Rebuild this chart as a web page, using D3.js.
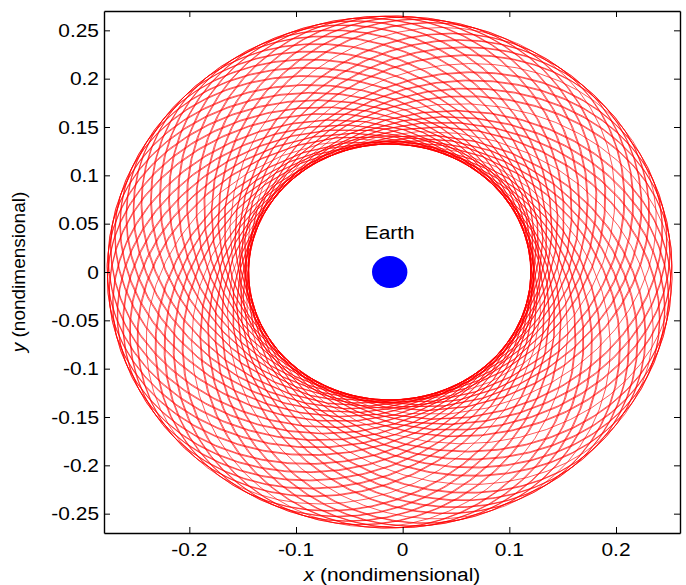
<!DOCTYPE html>
<html>
<head>
<meta charset="utf-8">
<script src="https://cdn.jsdelivr.net/npm/d3@7"></script>
<style>
  body { margin: 0; background: #fff; }
  text { font-family: "Liberation Sans", Arial, sans-serif; fill: #000; }
</style>
</head>
<body>
<div id="orbitPlot"></div>
<script>
// axis settings
let xDomain = [-0.28, 0.26]
let yDomain = [-0.27, 0.27]
let xTicks = [-0.2, -0.1, 0, 0.1, 0.2]
let yTicks = [-0.25, -0.2, -0.15, -0.1, -0.05, 0, 0.05, 0.1, 0.15, 0.2, 0.25]

// Earth in the Earth-Moon rotating frame
let mu = 0.01215
let earthPos = [-mu, 0]
let earthRadius = 0.0166
let earthLabel = "Earth"

// orbit: perigee / apogee radii seen in the plot, number of revolutions
let orbitRadii = [0.133, 0.265]
let orbitRevs = [105]
let samplesPerRev = [40]
let apseStart = [0.6]

function renderOrbitPlot() {
    let width = 686
    let height = 585
    let margin = { left: 104, top: 11, right: 6, bottom: 52 }
    let textStretch = 1.1

    let svg = d3.select('#orbitPlot')
        .append('svg')
        .attr('width', width)
        .attr('height', height)

    var x = d3.scaleLinear()
        .domain(xDomain)
        .range([margin.left, width - margin.right])
    var y = d3.scaleLinear()
        .domain(yDomain)
        .range([height - margin.bottom, margin.top])

    svg.append('defs')
        .append('clipPath')
        .attr('id', 'clip')
        .append('rect')
        .attr('x', x(xDomain[0]))
        .attr('y', y(yDomain[1]))
        .attr('width', x(xDomain[1]) - x(xDomain[0]))
        .attr('height', y(yDomain[0]) - y(yDomain[1]))

    // propagate the precessing ellipse (rotating frame)
    let rp = orbitRadii[0], ra = orbitRadii[1]
    let a = (rp + ra) / 2
    let e = (ra - rp) / (ra + rp)
    let n = Math.sqrt((1 - mu) / Math.pow(a, 3))
    let orbit = []
    let total = orbitRevs[0] * samplesPerRev[0]
    for (let k = 0; k <= total; k++) {
        let M = 2 * Math.PI * k / samplesPerRev[0]
        let t = M / n
        let E = M
        for (let it = 0; it < 10; it++) {
            E = E - (E - e * Math.sin(E) - M) / (1 - e * Math.cos(E))
        }
        let nu = 2 * Math.atan2(Math.sqrt(1 + e) * Math.sin(E / 2), Math.sqrt(1 - e) * Math.cos(E / 2))
        let r = a * (1 - e * Math.cos(E))
        let th = nu + apseStart[0] - t
        orbit.push([earthPos[0] + r * Math.cos(th), earthPos[1] + r * Math.sin(th)])
    }

    let line = d3.line()
        .x(d => x(d[0]))
        .y(d => y(d[1]))

    svg.append('g')
        .attr('clip-path', 'url(#clip)')
        .append('path')
        .datum(orbit)
        .attr('d', line)
        .attr('fill', 'none')
        .attr('stroke', '#ff0000')
        .attr('stroke-width', 0.65)

    // Earth
    svg.append('ellipse')
        .attr('cx', x(earthPos[0]))
        .attr('cy', y(earthPos[1]))
        .attr('rx', x(earthRadius) - x(0))
        .attr('ry', y(0) - y(earthRadius))
        .attr('fill', '#0000ff')

    svg.append('text')
        .attr('transform', 'translate(' + x(earthPos[0]) + ',' + (y(earthPos[1]) - 33) + ') scale(' + textStretch + ',1)')
        .attr('text-anchor', 'middle')
        .style('font-size', '19px')
        .text(earthLabel)

    // axes, MATLAB style box with inward ticks
    let fmt = d => String(d)
    let xAxisB = d3.axisBottom(x).tickValues(xTicks).tickSizeInner(-6).tickSizeOuter(0).tickFormat('')
    let xAxisT = d3.axisTop(x).tickValues(xTicks).tickSizeInner(-6).tickSizeOuter(0).tickFormat('')
    let yAxisL = d3.axisLeft(y).tickValues(yTicks).tickSizeInner(-6).tickSizeOuter(0).tickFormat('')
    let yAxisR = d3.axisRight(y).tickValues(yTicks).tickSizeInner(-6).tickSizeOuter(0).tickFormat('')

    let axes = [
        svg.append('g').attr('transform', 'translate(0,' + y(yDomain[0]) + ')').call(xAxisB),
        svg.append('g').attr('transform', 'translate(0,' + y(yDomain[1]) + ')').call(xAxisT),
        svg.append('g').attr('transform', 'translate(' + x(xDomain[0]) + ',0)').call(yAxisL),
        svg.append('g').attr('transform', 'translate(' + x(xDomain[1]) + ',0)').call(yAxisR)
    ]
    axes.forEach(g => {
        g.selectAll('path').attr('stroke', '#000').attr('stroke-width', 1.4)
        g.selectAll('line').attr('stroke', '#000').attr('stroke-width', 1)
    })

    // tick labels
    svg.append('g').selectAll('text')
        .data(xTicks)
        .enter()
        .append('text')
        .attr('transform', d => 'translate(' + x(d) + ',' + (y(yDomain[0]) + 23) + ') scale(' + textStretch + ',1)')
        .attr('text-anchor', 'middle')
        .style('font-size', '19px')
        .text(fmt)

    svg.append('g').selectAll('text')
        .data(yTicks)
        .enter()
        .append('text')
        .attr('transform', d => 'translate(' + (x(xDomain[0]) - 5) + ',' + (y(d) + 6.5) + ') scale(' + textStretch + ',1)')
        .attr('text-anchor', 'end')
        .style('font-size', '19px')
        .text(fmt)

    // axis labels
    let xl = svg.append('text')
        .attr('transform', 'translate(' + ((x(xDomain[0]) + x(xDomain[1])) / 2) + ',' + (height - 4) + ') scale(' + textStretch + ',1)')
        .attr('text-anchor', 'middle')
        .style('font-size', '19px')
    xl.append('tspan').style('font-style', 'italic').text('x')
    xl.append('tspan').text(' (nondimensional)')

    let yl = svg.append('text')
        .attr('transform', 'translate(25,' + ((y(yDomain[0]) + y(yDomain[1])) / 2) + ') rotate(-90)')
        .attr('text-anchor', 'middle')
        .style('font-size', '19px')
    yl.append('tspan').style('font-style', 'italic').text('y')
    yl.append('tspan').text(' (nondimensional)')
}

renderOrbitPlot()
</script>
</body>
</html>
